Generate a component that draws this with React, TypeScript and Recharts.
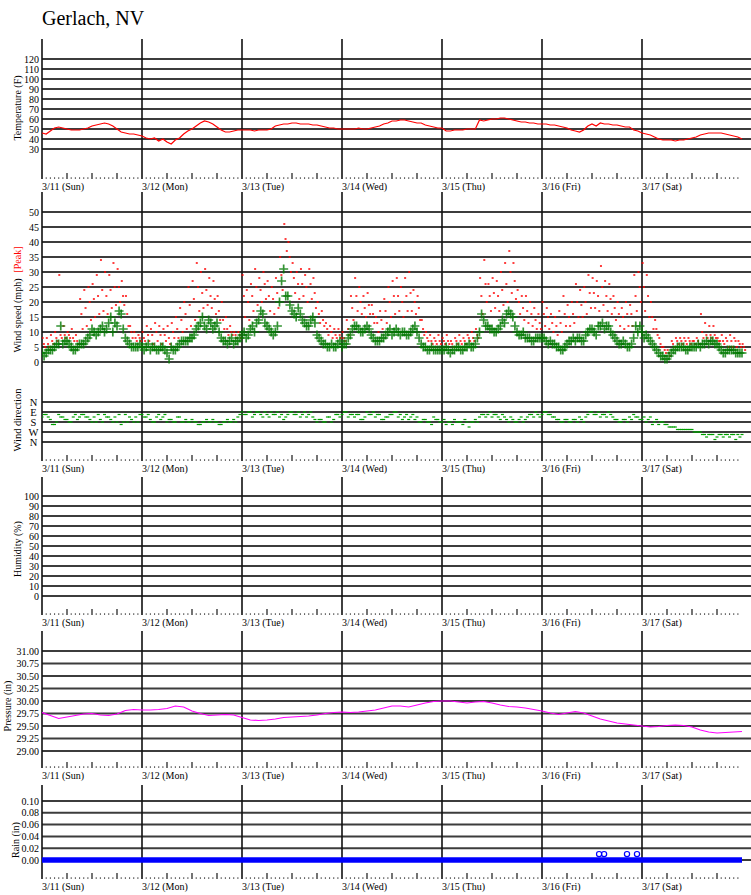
import React from 'react';
import { ComposedChart, Line, Scatter, XAxis, YAxis, ReferenceLine } from 'recharts';

const FONT = 'Liberation Serif';

// ---- axis ticks / labels ----
const dayLabels = ['3/11 (Sun)', '3/12 (Mon)', '3/13 (Tue)', '3/14 (Wed)', '3/15 (Thu)', '3/16 (Fri)', '3/17 (Sat)'];
const dayHours = [0, 24, 48, 72, 96, 120, 144];
const tempTicks = [30, 40, 50, 60, 70, 80, 90, 100, 110, 120];
const windTicks = [0, 5, 10, 15, 20, 25, 30, 35, 40, 45, 50];
const dirTicks = [0, 90, 180, 270, 360];
const dirLabels = ['N', 'E', 'S', 'W', 'N'];
const humTicks = [0, 10, 20, 30, 40, 50, 60, 70, 80, 90, 100];
const presTicks = [29, 29.25, 29.5, 29.75, 30, 30.25, 30.5, 30.75, 31];
const rainTicks = [0, 0.02, 0.04, 0.06, 0.08, 0.1];

// ---- data (hourly from 3/11 00:00) ----
const temperature = [
  46, 45, 48, 51, 52, 51, 50, 49, 49, 49, 50, 51, 53, 54, 55, 56, 55, 53, 50, 47, 46, 45, 45, 44,
  43, 41, 40, 41, 38, 40, 37, 35, 39, 41, 45, 48, 50, 53, 56, 58, 57, 55, 52, 49, 47, 47, 48, 49,
  49, 49, 49, 48, 49, 49, 49, 50, 53, 54, 55, 55, 56, 56, 55, 55, 55, 54, 54, 53, 52, 51, 51, 50,
  50, 50, 50, 50, 51, 50, 50, 51, 52, 53, 55, 56, 58, 58, 59, 59, 58, 57, 56, 56, 54, 53, 52, 51,
  51, 48, 48, 49, 49, 49, 50, 50, 50, 59, 58, 59, 60, 60, 61, 61, 60, 59, 58, 57, 57, 56, 56, 55,
  55, 55, 54, 54, 53, 52, 51, 49, 48, 47, 49, 53, 55, 53, 56, 55, 55, 54, 54, 53, 52, 52, 49, 48,
  46, 45, 44, 42, 40, 39, 39, 39, 38, 39, 39, 40, 41, 42, 44, 45, 46, 46, 46, 46, 45, 44, 43, 42, 40,
];

const windAvg = [
  3, 3, 4, 5, 6, 6, 7, 5, 4, 6, 6, 8, 11, 9, 11, 10, 13, 10, 12, 16, 8, 6, 5, 5,
  5, 5, 4, 5, 4, 5, 3, 5, 4, 6, 7, 7, 8, 11, 13, 12, 14, 11, 13, 8, 7, 7, 6, 7,
  9, 8, 11, 10, 14, 16, 12, 10, 10, 20, 31, 22, 17, 15, 16, 13, 12, 15, 9, 7, 6, 5, 5, 6,
  5, 6, 9, 12, 11, 10, 12, 9, 7, 7, 8, 10, 9, 11, 9, 10, 9, 11, 10, 6, 5, 4, 4, 4,
  4, 5, 3, 4, 5, 4, 5, 5, 6, 10, 14, 12, 11, 10, 12, 13, 17, 15, 10, 9, 8, 8, 7, 8,
  8, 7, 7, 6, 5, 4, 6, 7, 7, 8, 7, 10, 11, 9, 12, 11, 12, 9, 7, 6, 6, 5, 8, 10,
  10, 9, 7, 5, 3, 2, 1, 3, 4, 5, 5, 4, 5, 5, 5, 6, 6, 7, 6, 4, 3, 4, 4, 3, 3,
];

// half-hour samples (h + 0.5)
const windAvgHalf = [
  2, 4, 4, 6, 12, 7, 6, 4, 5, 6, 7, 9, 10, 10, 12, 11, 15, 13, 17, 11, 7, 5, 5, 6,
  4, 6, 5, 4, 5, 4, 1, 4, 5, 7, 7, 8, 9, 12, 15, 11, 13, 12, 10, 7, 6, 8, 7, 8,
  10, 9, 12, 13, 17, 13, 11, 9, 12, 27, 22, 19, 16, 18, 14, 12, 14, 13, 8, 6, 5, 6, 5, 7,
  6, 8, 11, 12, 10, 11, 11, 8, 7, 8, 9, 11, 10, 10, 10, 9, 10, 12, 8, 5, 4, 5, 4, 4,
  4, 4, 4, 5, 4, 5, 6, 5, 8, 16, 12, 11, 10, 11, 14, 16, 16, 12, 9, 10, 8, 7, 8, 8,
  8, 6, 6, 5, 4, 5, 7, 8, 8, 7, 9, 11, 10, 12, 13, 12, 10, 8, 6, 7, 5, 6, 12, 12,
  8, 8, 6, 4, 2, 1, 2, 4, 5, 5, 4, 5, 5, 6, 6, 7, 7, 6, 5, 3, 4, 4, 3, 3,
];

const peakHi = [
  8, 8, 9, 10, 29, 12, 10, 11, 9, 21, 24, 25, 26, 29, 34, 30, 29, 33, 31, 27, 22, 12, 10, 9,
  10, 12, 11, 13, 12, 11, 12, 13, 15, 18, 20, 25, 27, 33, 30, 31, 28, 27, 22, 20, 15, 12, 10, 10,
  29, 24, 26, 31, 28, 30, 27, 25, 28, 35, 46, 40, 33, 30, 31, 29, 31, 28, 20, 17, 13, 12, 11, 11,
  10, 14, 22, 28, 25, 22, 23, 19, 15, 17, 21, 25, 27, 28, 25, 28, 30, 24, 22, 14, 10, 9, 8, 9,
  8, 9, 7, 8, 9, 8, 9, 10, 11, 28, 34, 26, 28, 27, 30, 33, 37, 33, 24, 22, 22, 20, 18, 16,
  20, 18, 16, 15, 17, 22, 19, 20, 26, 24, 25, 29, 28, 27, 32, 27, 26, 22, 20, 18, 20, 19, 29, 30,
  33, 29, 20, 14, 8, 5, 4, 7, 8, 8, 8, 8, 7, 8, 16, 13, 12, 12, 8, 9, 8, 9, 8, 7, 6,
];
const peakMid = [
  6, 6, 7, 8, 9, 9, 9, 8, 7, 16, 18, 20, 21, 22, 24, 22, 24, 25, 25, 22, 16, 10, 8, 8,
  8, 9, 9, 10, 9, 9, 8, 10, 11, 14, 16, 19, 21, 25, 23, 24, 22, 21, 17, 14, 11, 10, 9, 9,
  22, 20, 22, 25, 24, 26, 22, 21, 23, 29, 41, 35, 28, 26, 26, 25, 26, 23, 16, 14, 11, 10, 9, 9,
  8, 11, 18, 22, 20, 18, 19, 16, 13, 14, 17, 20, 22, 22, 20, 22, 23, 20, 18, 11, 8, 7, 7, 7,
  7, 7, 6, 7, 7, 7, 8, 8, 9, 22, 26, 22, 23, 22, 24, 26, 30, 27, 20, 18, 17, 16, 14, 13,
  16, 15, 13, 12, 13, 16, 15, 16, 20, 19, 20, 23, 23, 22, 25, 22, 21, 18, 16, 15, 16, 16, 22, 25,
  25, 22, 15, 11, 6, 4, 3, 6, 7, 7, 7, 7, 7, 7, 10, 9, 9, 9, 7, 7, 7, 7, 7, 6, 5,
];
const peakLo = [
  5, 5, 6, 7, 8, 8, 8, 7, 6, 11, 12, 14, 15, 16, 17, 16, 18, 19, 20, 19, 12, 8, 7, 7,
  7, 7, 6, 7, 6, 7, 6, 8, 8, 10, 11, 12, 14, 17, 18, 19, 18, 16, 14, 11, 9, 9, 8, 8,
  15, 14, 17, 19, 20, 21, 17, 16, 18, 24, 37, 30, 23, 21, 22, 20, 21, 18, 13, 12, 9, 8, 8, 8,
  7, 9, 14, 17, 16, 15, 16, 13, 10, 11, 13, 15, 16, 17, 15, 17, 17, 16, 14, 9, 7, 6, 6, 6,
  6, 6, 5, 6, 6, 6, 7, 7, 8, 16, 20, 17, 18, 17, 19, 20, 23, 21, 16, 14, 13, 12, 11, 11,
  12, 11, 10, 9, 10, 12, 12, 13, 15, 15, 16, 18, 18, 17, 19, 17, 16, 14, 12, 11, 12, 12, 17, 20,
  17, 15, 11, 9, 5, 3, 2, 5, 6, 6, 6, 6, 6, 6, 8, 8, 8, 8, 7, 6, 5, 5, 5, 5, 4,
];

// wind direction, degrees (16-point compass)
const dirA = [
  135, 112.5, 157.5, 202.5, 112.5, 135, 157.5, 180, 112.5, 135, 112.5, 135, 180, 180, 157.5, 112.5, 135, 180, 180, 202.5, 112.5, 135, 180, 180,
  112.5, 135, 157.5, 180, 112.5, 135, 180, 157.5, 180, 135, 180, 180, 157.5, 180, 202.5, 180, 180, 157.5, 180, 202.5, 180, 180, 157.5, 135,
  90, 112.5, 90, 112.5, 90, 135, 112.5, 90, 112.5, 135, 157.5, 112.5, 90, 112.5, 135, 90, 112.5, 135, 180, 157.5, 180, 135, 157.5, 112.5,
  112.5, 90, 112.5, 135, 112.5, 157.5, 90, 112.5, 135, 112.5, 157.5, 135, 112.5, 90, 112.5, 135, 157.5, 112.5, 135, 180, 157.5, 180, 135, 157.5,
  180, 202.5, 180, 157.5, 180, 202.5, 180, 180, 157.5, 135, 112.5, 112.5, 135, 112.5, 157.5, 135, 180, 157.5, 180, 135, 157.5, 112.5, 135, 112.5,
  112.5, 90, 112.5, 135, 157.5, 180, 157.5, 180, 157.5, 135, 180, 112.5, 90, 112.5, 135, 112.5, 90, 135, 157.5, 180, 157.5, 135, 112.5, 135,
  157.5, 180, 135, 180, 202.5, 180, 202.5, 225, 225, 247.5, 247.5, 247.5, 247.5, 270, 270, 292.5, 292.5, 292.5, 315, 292.5, 292.5, 315, 292.5, 292.5, 292.5,
];
const dirB = [
  112.5, 135, 202.5, 180, 135, 157.5, 180, 135, 157.5, 112.5, 135, 157.5, 135, 112.5, 180, 135, 157.5, 135, 112.5, 180, 180, 157.5, 135, 112.5,
  135, 112.5, 180, 135, 157.5, 112.5, 157.5, 180, 135, 180, 157.5, 180, 180, 202.5, 180, 157.5, 180, 180, 202.5, 180, 157.5, 180, 180, 112.5,
  112.5, 90, 135, 90, 112.5, 90, 135, 112.5, 90, 112.5, 135, 90, 112.5, 90, 112.5, 135, 90, 157.5, 157.5, 180, 135, 180, 112.5, 135,
  90, 135, 112.5, 112.5, 157.5, 135, 112.5, 90, 112.5, 157.5, 135, 112.5, 90, 135, 157.5, 112.5, 135, 157.5, 180, 157.5, 180, 202.5, 157.5, 180,
  157.5, 180, 202.5, 180, 180, 157.5, 225, 180, 180, 112.5, 135, 90, 112.5, 135, 112.5, 157.5, 135, 180, 157.5, 180, 135, 112.5, 90, 135,
  90, 112.5, 135, 157.5, 180, 157.5, 180, 157.5, 180, 157.5, 135, 90, 112.5, 90, 112.5, 135, 112.5, 157.5, 180, 157.5, 180, 157.5, 135, 157.5,
  135, 157.5, 202.5, 157.5, 180, 202.5, 225, 225, 247.5, 247.5, 247.5, 247.5, 270, 270, 292.5, 315, 292.5, 337.5, 292.5, 315, 292.5, 292.5, 337.5, 315,
];

// pressure, every 2 hours
const pressure = [
  29.77, 29.71, 29.65, 29.68, 29.71, 29.74, 29.75, 29.72, 29.71, 29.74, 29.81, 29.83,
  29.82, 29.82, 29.83, 29.85, 29.9, 29.88, 29.8, 29.75, 29.71, 29.72, 29.73, 29.72,
  29.67, 29.62, 29.61, 29.62, 29.64, 29.67, 29.68, 29.69, 29.7, 29.72, 29.75, 29.77,
  29.78, 29.77, 29.78, 29.8, 29.82, 29.86, 29.9, 29.9, 29.88, 29.92, 29.96, 29.99,
  30.0, 30.0, 29.98, 29.96, 29.98, 29.99, 29.96, 29.92, 29.89, 29.88, 29.86, 29.83,
  29.8, 29.76, 29.73, 29.76, 29.79, 29.76, 29.7, 29.64, 29.6, 29.56, 29.54, 29.52,
  29.5, 29.48, 29.49, 29.51, 29.52, 29.51, 29.48, 29.42, 29.38, 29.36, 29.37, 29.38, 29.39,
];

// rain: readings every 6 hours (all zero) and the few 0.01 readings
const rainBase = [0, 0, 0, 0, 0, 0, 0, 0, 0, 0, 0, 0, 0, 0, 0, 0, 0, 0, 0, 0, 0, 0, 0, 0, 0, 0, 0, 0, 0];
const rainHours = [133.7, 134.9, 140.4, 142.8];
const rainAmounts = [0.01, 0.01, 0.01, 0.01];

// ---- derived rows ----
const tempRows = temperature.map((v, i) => ({ t: i, v }));
const windRows = windAvg.map((v, i) => ({ t: i, v }));
const windHalfRows = windAvgHalf.map((v, i) => ({ t: i + 0.5, v }));
const peakHiRows = peakHi.map((v, i) => ({ t: i + 0.15, v }));
const peakMidRows = peakMid.map((v, i) => ({ t: i + 0.45, v }));
const peakLoRows = peakLo.map((v, i) => ({ t: i + 0.75, v }));
const dirARows = dirA.map((v, i) => ({ t: i, v }));
const dirBRows = dirB.map((v, i) => ({ t: i + 0.5, v }));
const presRows = pressure.map((v, i) => ({ t: i * 2, v }));
const rainBaseRows = rainBase.map((v, i) => ({ t: i * 6, v }));
const rainRows = rainHours.map((t, i) => ({ t, v: rainAmounts[i] }));

const XMAX = 170.16;
const hourTicks = Array.from({ length: 168 }, (_, i) => i);

const txtStyle = { fontFamily: FONT };

const HourTick = (p: any) => {
  const { x, y, payload } = p;
  const h = payload.value;
  if (h % 24 === 0) {
    return (
      <text x={x} y={y + 10.5} fontSize={10} style={txtStyle} fill="#000">
        {dayLabels[h / 24]}
      </text>
    );
  }
  if (h % 6 === 0) {
    return <line x1={x} x2={x} y1={y} y2={y - 6} stroke="#000" strokeWidth={1.1} />;
  }
  return <rect x={x - 0.5} y={y - 1.5} width={1.1} height={1.1} fill="#000" />;
};

const yTick = { fontSize: 10, fill: '#000', style: txtStyle };

const xAxisEl = (
  <XAxis
    type="number"
    dataKey="t"
    domain={[0, XMAX]}
    allowDataOverflow
    ticks={hourTicks}
    interval={0}
    tickSize={0}
    tickMargin={0}
    axisLine={false}
    tickLine={false}
    tick={<HourTick />}
    height={16}
  />
);

const hLines = (ticks: number[], id: string) =>
  ticks.map((v) => <ReferenceLine key={'h' + id + v} yAxisId={id} y={v} stroke="#3c3c3c" strokeWidth={2} />);
const vLines = (id: string) =>
  dayHours.map((h) => <ReferenceLine key={'v' + id + h} yAxisId={id} x={h} stroke="#111" strokeWidth={1.6} />);

const plusShape = (p: any) => (
  <path
    d={`M${p.cx - 4.5},${p.cy}H${p.cx + 4.5}M${p.cx},${p.cy - 4.5}V${p.cy + 4.5}`}
    stroke="#007800"
    strokeWidth={1.7}
    strokeOpacity={0.8}
    fill="none"
  />
);
const peakShape = (p: any) => <rect x={p.cx - 1} y={p.cy - 0.75} width={2} height={1.5} fill="#ff0000" />;
const dirShape = (p: any) => <rect x={p.cx - 1.5} y={p.cy - 0.6} width={3} height={1.2} fill="#00a000" />;
const rainShape = (p: any) => <circle cx={p.cx} cy={p.cy} r={2.6} fill="none" stroke="#0000ff" strokeWidth={1.2} />;

const DirTick = (p: any) => {
  const idx = dirTicks.indexOf(p.payload.value);
  return (
    <text x={33.5} y={p.y} dy="0.355em" textAnchor="middle" fontSize={10.5} style={txtStyle} fill="#000">
      {dirLabels[idx]}
    </text>
  );
};

const W = 751;
const margin = { top: 0, right: 0, bottom: 0, left: 0 };

export default function App() {
  return (
    <div style={{ position: 'absolute', left: 0, top: 0, width: W, height: 895, background: '#fff', overflow: 'hidden' }}>
      {/* Temperature */}
      <div style={{ position: 'absolute', left: 0, top: 39 }}>
        <ComposedChart width={W} height={140 + 16} margin={margin}>
          {xAxisEl}
          <YAxis yAxisId="l" type="number" domain={[0, 140]} allowDataOverflow ticks={tempTicks} interval={0} width={42} tickSize={0} tickMargin={3} axisLine={false} tickLine={false} tick={yTick} />
          {hLines(tempTicks, 'l')}
          {vLines('l')}
          <Line yAxisId="l" data={tempRows} dataKey="v" type="linear" stroke="#ff0000" strokeWidth={1.2} dot={false} isAnimationActive={false} />
        </ComposedChart>
      </div>

      {/* Wind speed + direction */}
      <div style={{ position: 'absolute', left: 0, top: 192 }}>
        <ComposedChart width={W + 2} height={269 + 16} margin={margin}>
          {xAxisEl}
          <YAxis yAxisId="l" type="number" domain={[-33, 56.667]} allowDataOverflow ticks={windTicks} interval={0} width={42} tickSize={0} tickMargin={3} axisLine={false} tickLine={false} tick={yTick} />
          <YAxis yAxisId="d" orientation="right" reversed type="number" domain={[-1890, 531]} allowDataOverflow ticks={dirTicks} interval={0} width={2} tickSize={0} tickMargin={0} axisLine={false} tickLine={false} tick={<DirTick />} />
          {hLines(windTicks, 'l')}
          {hLines(dirTicks, 'd')}
          {vLines('l')}
          <Scatter yAxisId="l" data={peakHiRows} dataKey="v" shape={peakShape} isAnimationActive={false} />
          <Scatter yAxisId="l" data={peakMidRows} dataKey="v" shape={peakShape} isAnimationActive={false} />
          <Scatter yAxisId="l" data={peakLoRows} dataKey="v" shape={peakShape} isAnimationActive={false} />
          <Scatter yAxisId="l" data={windRows} dataKey="v" shape={plusShape} isAnimationActive={false} />
          <Scatter yAxisId="l" data={windHalfRows} dataKey="v" shape={plusShape} isAnimationActive={false} />
          <Scatter yAxisId="d" data={dirARows} dataKey="v" shape={dirShape} isAnimationActive={false} />
          <Scatter yAxisId="d" data={dirBRows} dataKey="v" shape={dirShape} isAnimationActive={false} />
        </ComposedChart>
      </div>

      {/* Humidity */}
      <div style={{ position: 'absolute', left: 0, top: 477 }}>
        <ComposedChart width={W} height={138 + 16} margin={margin}>
          {xAxisEl}
          <YAxis yAxisId="l" type="number" domain={[-19, 119]} allowDataOverflow ticks={humTicks} interval={0} width={42} tickSize={0} tickMargin={3} axisLine={false} tickLine={false} tick={yTick} />
          {hLines(humTicks, 'l')}
          {vLines('l')}
        </ComposedChart>
      </div>

      {/* Pressure */}
      <div style={{ position: 'absolute', left: 0, top: 631 }}>
        <ComposedChart width={W} height={137 + 16} margin={margin}>
          {xAxisEl}
          <YAxis yAxisId="l" type="number" domain={[28.66, 31.4]} allowDataOverflow ticks={presTicks} interval={0} width={42} tickSize={0} tickMargin={3} axisLine={false} tickLine={false} tick={yTick} tickFormatter={(v: number) => v.toFixed(2)} />
          {hLines(presTicks, 'l')}
          {vLines('l')}
          <Line yAxisId="l" data={presRows} dataKey="v" type="linear" stroke="#ff00ff" strokeWidth={1.2} dot={false} isAnimationActive={false} />
        </ComposedChart>
      </div>

      {/* Rain */}
      <div style={{ position: 'absolute', left: 0, top: 785 }}>
        <ComposedChart width={W} height={94 + 16} margin={margin}>
          {xAxisEl}
          <YAxis yAxisId="l" type="number" domain={[-0.0322, 0.1271]} allowDataOverflow ticks={rainTicks} interval={0} width={42} tickSize={0} tickMargin={3} axisLine={false} tickLine={false} tick={yTick} tickFormatter={(v: number) => v.toFixed(2)} />
          {hLines(rainTicks, 'l')}
          {vLines('l')}
          <Line yAxisId="l" data={rainBaseRows} dataKey="v" type="linear" stroke="#0000ff" strokeWidth={5.5} dot={false} isAnimationActive={false} />
          <Scatter yAxisId="l" data={rainRows} dataKey="v" shape={rainShape} isAnimationActive={false} />
        </ComposedChart>
      </div>

      {/* Title and axis titles */}
      <svg width={W} height={895} style={{ position: 'absolute', left: 0, top: 0, pointerEvents: 'none', fontFamily: FONT }}>
        <text x={42} y={25} fontSize={20} fill="#000">Gerlach, NV</text>
        <text transform="translate(20.5,108) rotate(-90)" textAnchor="middle" fontSize={10} fill="#000">Temperature (F)</text>
        <text transform="translate(21,299.5) rotate(-90)" textAnchor="middle" fontSize={10} fill="#000">
          <tspan>Wind speed (mph)</tspan>
          <tspan fill="#ff0000" dx={6}>[Peak]</tspan>
        </text>
        <text transform="translate(21,420) rotate(-90)" textAnchor="middle" fontSize={10.5} fill="#000">Wind direction</text>
        <text transform="translate(20.5,549) rotate(-90)" textAnchor="middle" fontSize={10} fill="#000">Humidity (%)</text>
        <text transform="translate(11,706) rotate(-90)" textAnchor="middle" fontSize={10} fill="#000">Pressure (in)</text>
        <text transform="translate(18.5,840) rotate(-90)" textAnchor="middle" fontSize={10} fill="#000">Rain (in)</text>
      </svg>
    </div>
  );
}
